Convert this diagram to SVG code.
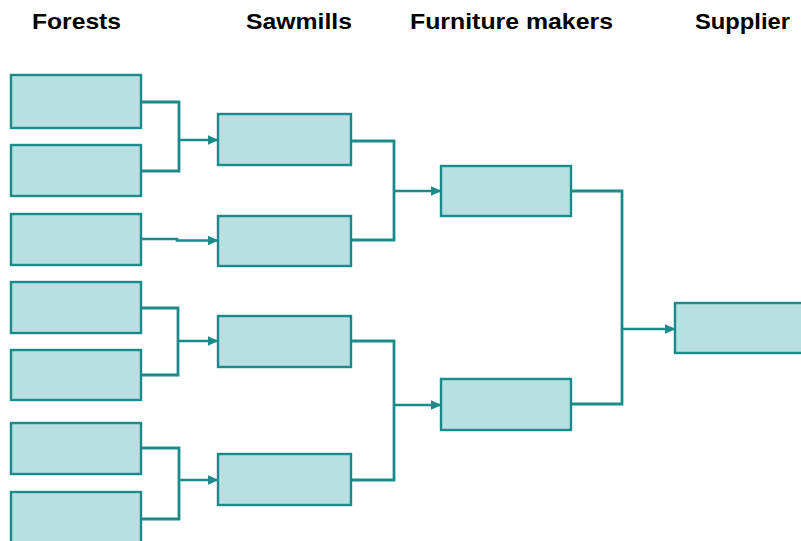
<svg xmlns="http://www.w3.org/2000/svg" width="801" height="541" viewBox="0 0 801 541">
<defs>
<style>
.box{fill:#b8dfe2;stroke:#1a8a8a;stroke-width:2.4}
.title{font-family:"Liberation Sans",Arial,sans-serif;font-weight:bold;font-size:22px;fill:#000}
.ln{fill:none;stroke:#1a8a8a;stroke-width:2.8}
.ar{fill:none;stroke:#1a8a8a;stroke-width:2.6;marker-end:url(#ah)}
</style>
<marker id="ah" viewBox="0 0 10 10" refX="9.5" refY="5" markerWidth="11" markerHeight="11" orient="auto" markerUnits="userSpaceOnUse">
<path d="M0,0.5 L10,5 L0,9.5 Z" fill="#1a8a8a"/>
</marker>
</defs>
<rect width="801" height="541" fill="#fff"/>
<g id="titles">
<text class="title" x="32" y="29" textLength="89" lengthAdjust="spacingAndGlyphs">Forests</text>
<text class="title" x="246" y="29" textLength="106" lengthAdjust="spacingAndGlyphs">Sawmills</text>
<text class="title" x="410" y="29" textLength="203" lengthAdjust="spacingAndGlyphs">Furniture makers</text>
<text class="title" x="695" y="29" textLength="95" lengthAdjust="spacingAndGlyphs">Supplier</text>
</g>
<g id="connectors">
<path class="ln" d="M141,102 H179 V171 H141"/>
<path class="ar" d="M179,140 H218"/>
<path class="ar" d="M141,239 H177 V240.5 H218"/>
<path class="ln" d="M141,308 H178 V375 H141"/>
<path class="ar" d="M178,341 H218"/>
<path class="ln" d="M141,448 H179 V519 H141"/>
<path class="ar" d="M179,480 H218"/>
<path class="ln" d="M351,141 H394 V240 H351"/>
<path class="ar" d="M394,191 H441"/>
<path class="ln" d="M351,341 H394 V480 H351"/>
<path class="ar" d="M394,405 H441"/>
<path class="ln" d="M571,191 H622 V404 H571"/>
<path class="ar" d="M622,329 H675"/>
</g>
<g id="forest1"><rect class="box" x="11" y="75" width="130" height="53"/></g>
<g id="forest2"><rect class="box" x="11" y="145" width="130" height="51"/></g>
<g id="forest3"><rect class="box" x="11" y="214" width="130" height="51"/></g>
<g id="forest4"><rect class="box" x="11" y="282" width="130" height="51"/></g>
<g id="forest5"><rect class="box" x="11" y="350" width="130" height="50"/></g>
<g id="forest6"><rect class="box" x="11" y="423" width="130" height="51"/></g>
<g id="forest7"><rect class="box" x="11" y="492" width="130" height="52"/></g>
<g id="sawmill1"><rect class="box" x="218" y="114" width="133" height="51"/></g>
<g id="sawmill2"><rect class="box" x="218" y="216" width="133" height="50"/></g>
<g id="sawmill3"><rect class="box" x="218" y="316" width="133" height="51"/></g>
<g id="sawmill4"><rect class="box" x="218" y="454" width="133" height="51"/></g>
<g id="furniture1"><rect class="box" x="441" y="166" width="130" height="50"/></g>
<g id="furniture2"><rect class="box" x="441" y="379" width="130" height="51"/></g>
<g id="supplier"><rect class="box" x="675" y="303" width="130" height="50"/></g>
</svg>
